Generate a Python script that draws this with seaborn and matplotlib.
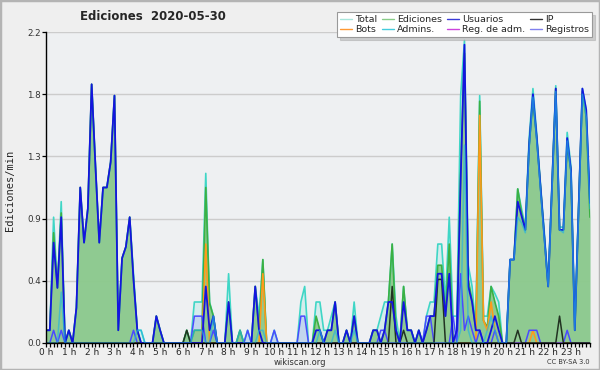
import numpy as np
import pandas as pd
import matplotlib
matplotlib.use("Agg")
import matplotlib.pyplot as plt
import seaborn as sns
from matplotlib.lines import Line2D
from matplotlib.patches import Rectangle

sns.set_style("ticks")
plt.rcParams['font.family'] = ['DejaVu Sans']

# ---------------- data (edits per minute, 10-minute bins, 6 per hour) ----------------
hour_labels = [f"{h} h" for h in range(24)]
y_ticks = [0.0, 0.44, 0.88, 1.32, 1.76, 2.2]
y_tick_labels = ["0.0", "0.4", "0.9", "1.3", "1.8", "2.2"]

total = [
    0.09, 0.09, 0.89, 0.39, 1.00, 0.00,
    0.09, 0.00, 0.25, 1.10, 0.71, 0.95,
    1.83, 1.25, 0.71, 1.10, 1.10, 1.28,
    1.75, 0.09, 0.60, 0.68, 0.89, 0.49,
    0.09, 0.09, 0.00, 0.00, 0.00, 0.19,
    0.09, 0.00, 0.00, 0.00, 0.00, 0.00,
    0.00, 0.09, 0.00, 0.29, 0.29, 0.29,
    1.20, 0.29, 0.19, 0.00, 0.00, 0.00,
    0.49, 0.00, 0.00, 0.09, 0.00, 0.09,
    0.00, 0.40, 0.19, 0.59, 0.00, 0.00,
    0.09, 0.00, 0.00, 0.00, 0.00, 0.00,
    0.00, 0.29, 0.40, 0.00, 0.00, 0.29,
    0.29, 0.09, 0.09, 0.19, 0.29, 0.00,
    0.00, 0.09, 0.00, 0.29, 0.00, 0.00,
    0.00, 0.00, 0.09, 0.09, 0.19, 0.29,
    0.29, 0.70, 0.19, 0.00, 0.40, 0.09,
    0.09, 0.00, 0.09, 0.00, 0.19, 0.29,
    0.29, 0.70, 0.70, 0.29, 0.89, 0.19,
    0.19, 1.75, 2.14, 0.55, 0.40, 0.09,
    1.75, 0.19, 0.19, 0.40, 0.35, 0.29,
    0.00, 0.00, 0.59, 0.59, 1.09, 0.95,
    0.82, 1.45, 1.80, 1.48, 1.12, 0.78,
    0.42, 1.12, 1.82, 0.82, 0.82, 1.49,
    1.25, 0.12, 0.97, 1.80, 1.65, 0.99,
]

ediciones = [
    0.09, 0.09, 0.78, 0.39, 0.92, 0.00,
    0.09, 0.00, 0.25, 1.10, 0.71, 0.95,
    1.83, 1.25, 0.71, 1.10, 1.10, 1.28,
    1.75, 0.09, 0.60, 0.68, 0.89, 0.45,
    0.09, 0.00, 0.00, 0.00, 0.00, 0.19,
    0.09, 0.00, 0.00, 0.00, 0.00, 0.00,
    0.00, 0.09, 0.00, 0.09, 0.09, 0.09,
    1.10, 0.28, 0.19, 0.00, 0.00, 0.00,
    0.29, 0.00, 0.00, 0.09, 0.00, 0.00,
    0.00, 0.40, 0.09, 0.59, 0.00, 0.00,
    0.00, 0.00, 0.00, 0.00, 0.00, 0.00,
    0.00, 0.00, 0.00, 0.00, 0.00, 0.19,
    0.09, 0.00, 0.09, 0.09, 0.29, 0.00,
    0.00, 0.09, 0.00, 0.19, 0.00, 0.00,
    0.00, 0.00, 0.09, 0.09, 0.00, 0.09,
    0.29, 0.70, 0.09, 0.00, 0.40, 0.09,
    0.09, 0.00, 0.09, 0.00, 0.09, 0.19,
    0.19, 0.55, 0.55, 0.19, 0.70, 0.00,
    0.09, 1.20, 2.05, 0.45, 0.30, 0.09,
    1.71, 0.16, 0.11, 0.40, 0.29, 0.19,
    0.00, 0.00, 0.59, 0.59, 1.09, 0.92,
    0.80, 1.40, 1.71, 1.45, 1.10, 0.75,
    0.40, 1.10, 1.80, 0.80, 0.80, 1.40,
    1.22, 0.09, 0.95, 1.78, 1.60, 0.89,
]

usuarios = [
    0.09, 0.09, 0.71, 0.39, 0.89, 0.00,
    0.09, 0.00, 0.25, 1.10, 0.71, 0.95,
    1.83, 1.25, 0.71, 1.10, 1.10, 1.28,
    1.75, 0.09, 0.60, 0.68, 0.89, 0.45,
    0.09, 0.00, 0.00, 0.00, 0.00, 0.19,
    0.09, 0.00, 0.00, 0.00, 0.00, 0.00,
    0.00, 0.00, 0.00, 0.00, 0.00, 0.00,
    0.40, 0.09, 0.19, 0.00, 0.00, 0.00,
    0.29, 0.00, 0.00, 0.00, 0.00, 0.00,
    0.00, 0.40, 0.09, 0.00, 0.00, 0.00,
    0.00, 0.00, 0.00, 0.00, 0.00, 0.00,
    0.00, 0.00, 0.00, 0.00, 0.00, 0.09,
    0.09, 0.00, 0.09, 0.09, 0.29, 0.00,
    0.00, 0.09, 0.00, 0.19, 0.00, 0.00,
    0.00, 0.00, 0.09, 0.09, 0.00, 0.09,
    0.29, 0.29, 0.09, 0.00, 0.29, 0.09,
    0.09, 0.00, 0.09, 0.00, 0.09, 0.19,
    0.19, 0.49, 0.49, 0.19, 0.49, 0.00,
    0.09, 1.15, 2.11, 0.40, 0.29, 0.09,
    0.09, 0.00, 0.00, 0.09, 0.19, 0.09,
    0.00, 0.00, 0.59, 0.59, 1.00, 0.90,
    0.80, 1.40, 1.76, 1.45, 1.10, 0.75,
    0.40, 1.10, 1.80, 0.80, 0.80, 1.45,
    1.22, 0.09, 0.95, 1.80, 1.65, 0.99,
]

ip = [
    0, 0, 0, 0, 0, 0,
    0, 0, 0, 0, 0, 0,
    0, 0, 0, 0, 0, 0,
    0, 0, 0, 0, 0, 0,
    0, 0, 0, 0, 0, 0,
    0, 0, 0, 0, 0, 0,
    0, 0.09, 0, 0, 0, 0,
    0, 0, 0, 0, 0, 0,
    0, 0, 0, 0, 0, 0,
    0, 0, 0, 0, 0, 0,
    0, 0, 0, 0, 0, 0,
    0, 0, 0, 0, 0, 0,
    0, 0, 0, 0, 0, 0,
    0, 0, 0, 0, 0, 0,
    0, 0, 0, 0, 0, 0,
    0, 0.40, 0, 0, 0.09, 0,
    0, 0, 0, 0, 0, 0,
    0, 0.45, 0.45, 0, 0, 0,
    0, 0, 0, 0, 0, 0,
    0, 0, 0, 0, 0, 0,
    0, 0, 0, 0, 0.09, 0,
    0, 0, 0, 0, 0, 0,
    0, 0, 0, 0.19, 0, 0,
    0, 0, 0, 0, 0, 0,
]

bots = [
    0, 0, 0, 0, 0, 0,
    0, 0, 0, 0, 0, 0,
    0, 0, 0, 0, 0, 0,
    0, 0, 0, 0, 0, 0,
    0, 0, 0, 0, 0, 0,
    0, 0, 0, 0, 0, 0,
    0, 0, 0, 0, 0, 0,
    0.70, 0, 0, 0, 0, 0,
    0, 0, 0, 0, 0, 0,
    0, 0, 0, 0.49, 0, 0,
    0, 0, 0, 0, 0, 0,
    0, 0, 0, 0, 0, 0,
    0, 0, 0, 0, 0, 0,
    0, 0, 0, 0, 0, 0,
    0, 0, 0, 0, 0, 0,
    0, 0, 0, 0, 0, 0,
    0, 0, 0, 0, 0, 0,
    0, 0, 0, 0, 0, 0,
    0, 0, 0, 0, 0, 0,
    1.61, 0.16, 0.09, 0.29, 0.09, 0,
    0, 0, 0, 0, 0, 0,
    0, 0, 0.09, 0, 0, 0,
    0, 0, 0, 0, 0, 0,
    0, 0, 0, 0, 0, 0,
]

admins = [
    0, 0, 0, 0, 0.36, 0,
    0, 0, 0, 0, 0, 0,
    0, 0, 0, 0, 0, 0,
    0, 0, 0, 0, 0, 0,
    0.09, 0.09, 0, 0, 0, 0,
    0, 0, 0, 0, 0, 0,
    0, 0, 0, 0.09, 0.09, 0.09,
    0, 0, 0.19, 0, 0, 0,
    0, 0, 0, 0.09, 0, 0,
    0, 0, 0.09, 0.09, 0, 0,
    0, 0, 0, 0, 0, 0,
    0, 0, 0, 0, 0, 0,
    0.09, 0, 0, 0, 0.09, 0,
    0, 0, 0, 0.09, 0, 0,
    0, 0, 0, 0, 0, 0,
    0, 0, 0, 0, 0, 0,
    0, 0, 0, 0, 0, 0,
    0, 0, 0, 0, 0, 0,
    0, 0.09, 1.40, 0.09, 0, 0,
    0, 0, 0.09, 0.19, 0.09, 0,
    0, 0, 0.59, 0.59, 0.89, 0.85,
    0.78, 1.38, 1.74, 1.43, 1.08, 0.73,
    0.40, 1.08, 1.78, 0.80, 0.78, 1.43,
    1.20, 0.09, 0.93, 1.76, 1.60, 0.95,
]

reg_adm = [0.0] * 144

registros = [
    0, 0, 0.09, 0, 0.09, 0,
    0, 0, 0, 0, 0, 0,
    0, 0, 0, 0, 0, 0,
    0, 0, 0, 0, 0, 0.09,
    0, 0, 0, 0, 0, 0,
    0, 0, 0, 0, 0, 0,
    0, 0, 0, 0.19, 0.19, 0.19,
    0, 0, 0.09, 0, 0, 0,
    0, 0, 0, 0, 0, 0.09,
    0, 0, 0, 0, 0, 0,
    0.09, 0, 0, 0, 0, 0,
    0, 0.19, 0.19, 0, 0, 0,
    0, 0, 0, 0, 0, 0,
    0, 0, 0, 0, 0, 0,
    0, 0, 0, 0, 0.09, 0.09,
    0, 0, 0, 0, 0, 0,
    0, 0, 0, 0, 0.19, 0.19,
    0, 0, 0, 0, 0, 0.19,
    0, 0.49, 0.09, 0.19, 0.09, 0,
    0.09, 0, 0, 0, 0.09, 0,
    0, 0, 0, 0, 0, 0,
    0, 0.09, 0.09, 0.09, 0, 0,
    0, 0, 0, 0, 0, 0.09,
    0, 0, 0, 0, 0, 0,
]

# ---------------- figure ----------------
x_hours = np.arange(len(total)) / 6.0
df = pd.DataFrame({
    "hora": x_hours, "Total": total, "Ediciones": ediciones, "Usuarios": usuarios,
    "IP": ip, "Bots": bots, "Admins.": admins, "Reg. de adm.": reg_adm,
    "Registros": registros,
})

fig = plt.figure(figsize=(6, 3.7), dpi=100, facecolor="#efefef")
ax = fig.add_axes([46 / 600, 27 / 370, 544 / 600, 311 / 370])
ax.set_facecolor("#eef0f2")

# fills
ax.fill_between(df["hora"], df["Total"], color="#40d8c8", alpha=0.14, lw=0)
ax.fill_between(df["hora"], df["Registros"], color="#5a5aff", alpha=0.15, lw=0)
ax.fill_between(df["hora"], df["Ediciones"], color="#8cc98c", alpha=0.95, lw=0)

line_styles = [
    ("Total", "#3fd6c6", 1.2, 1.0),
    ("Ediciones", "#3cb043", 1.2, 1.0),
    ("Bots", "#ff9a1a", 1.2, 1.0),
    ("Registros", "#4a4aff", 1.1, 1.0),
    ("Reg. de adm.", "#cc44cc", 1.0, 1.0),
    ("IP", "#223322", 1.1, 1.0),
    ("Usuarios", "#1414e0", 1.3, 1.0),
    ("Admins.", "#22b4e0", 1.1, 0.65),
]
for name, col, lw, al in line_styles:
    sns.lineplot(data=df, x="hora", y=name, ax=ax, color=col, lw=lw,
                 alpha=al, legend=False)

ax.set_xlim(0, 143 / 6)
ax.set_ylim(0, 2.2)
ax.set_xticks(np.arange(24))
ax.set_xticklabels(hour_labels, fontsize=6.5)
ax.set_xticks(np.arange(144) / 6, minor=True)
ax.set_yticks(y_ticks)
ax.set_yticklabels(y_tick_labels, fontsize=6.3, color="#333333")
ax.tick_params(axis="both", which="both", direction="out", length=3, width=0.9,
               color="black", pad=0.5)
ax.set_xlabel("")
ax.set_ylabel("")
ax.yaxis.grid(True, color="#cccccc", lw=1)
ax.set_axisbelow(True)
for s in ["top", "right"]:
    ax.spines[s].set_visible(False)
for s in ["left", "bottom"]:
    ax.spines[s].set_color("black")
    ax.spines[s].set_linewidth(1)

# texts
fig.text(153 / 600, 1 - 17 / 370, "Ediciones  2020-05-30", ha="center", va="center",
         fontsize=8.5, fontweight="bold")
fig.text(10 / 600, 1 - 190 / 370, "Ediciones/min", rotation=90, ha="center",
         va="center", fontsize=7.5, family="DejaVu Sans Mono")
fig.text(300 / 600, 1 - 362.5 / 370, "wikiscan.org", ha="center", va="center",
         fontsize=6, color="#333333")
fig.text(590 / 600, 1 - 362.5 / 370, "CC BY-SA 3.0", ha="right", va="center",
         fontsize=4.8, color="#333333")

# legend (row-wise order: Total, Ediciones, Usuarios, IP / Bots, Admins., Reg. de adm., Registros)
leg_items = [
    ("Total", "#a8e6dc"), ("Bots", "#ff9933"),
    ("Ediciones", "#88cc88"), ("Admins.", "#44ccdd"),
    ("Usuarios", "#3a3ad8"), ("Reg. de adm.", "#cc44dd"),
    ("IP", "#333333"), ("Registros", "#8080ee"),
]
handles = [Line2D([0], [0], color=c, lw=1.0) for _, c in leg_items]
labels = [n for n, _ in leg_items]
leg = fig.legend(handles, labels, ncol=4, loc="upper right",
                 bbox_to_anchor=(592 / 600, 1 - 12 / 370), frameon=True,
                 fancybox=False, shadow={"color": "#aaaaaa"}, fontsize=6.8,
                 handlelength=1.3, columnspacing=0.45, handletextpad=0.35,
                 labelspacing=0.12, borderpad=0.3, borderaxespad=0)
leg.get_frame().set_edgecolor("#999999")
leg.get_frame().set_facecolor("white")
leg.get_frame().set_linewidth(0.8)

fig.patches.append(Rectangle((0, 0), 1, 1, transform=fig.transFigure, fill=False,
                             edgecolor="#b4b4b4", lw=2.5))

fig.savefig("out.png", dpi=100, facecolor=fig.get_facecolor())
